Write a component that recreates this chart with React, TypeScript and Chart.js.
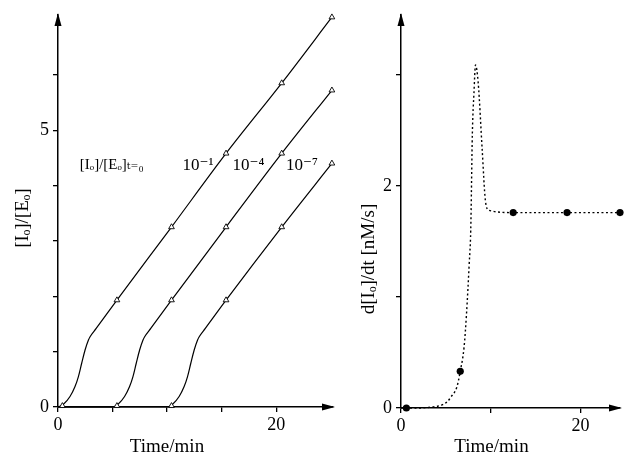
import React, { useEffect, useRef } from "react";
import { Chart, registerables } from "chart.js";

Chart.register(...registerables);

const FONT = "'Liberation Serif', 'DejaVu Serif', serif";

// ---------- Left panel data: [Io]/[Eo] vs time ----------
const T1 = [0, 0.5, 1.1, 1.56, 1.87, 2.17, 2.48, 2.79, 2.94, 3.5, 5.4, 10.4, 15.4, 20.5, 25.1];
const Y1 = [0, 0.05, 0.19, 0.37, 0.55, 0.79, 1.03, 1.21, 1.27, 1.42, 1.93, 3.25, 4.58, 5.85, 7.04];
const T2 = [0, 5.0, 5.5, 6.1, 6.56, 6.87, 7.17, 7.48, 7.79, 7.94, 8.5, 10.4, 15.4, 20.5, 25.1];
const Y2 = [0, 0, 0.05, 0.19, 0.37, 0.55, 0.79, 1.03, 1.21, 1.27, 1.42, 1.93, 3.25, 4.58, 5.72];
const T3 = [0, 10.0, 10.5, 11.1, 11.56, 11.87, 12.17, 12.48, 12.79, 12.94, 13.5, 15.4, 20.5, 25.1];
const Y3 = [0, 0, 0.05, 0.19, 0.37, 0.55, 0.79, 1.03, 1.21, 1.27, 1.42, 1.93, 3.25, 4.4];

const M1_T = [0.4, 5.4, 10.4, 15.4, 20.5, 25.1];
const M1_Y = [0.02, 1.93, 3.25, 4.58, 5.85, 7.04];
const M2_T = [5.4, 10.4, 15.4, 20.5, 25.1];
const M2_Y = [0.02, 1.93, 3.25, 4.58, 5.72];
const M3_T = [10.4, 15.4, 20.5, 25.1];
const M3_Y = [0.02, 1.93, 3.25, 4.4];

const X_TICKS_L = [0, 5, 10, 15, 20];
const X_LABELS_L = [0, 20];
const Y_TICKS_L = [0, 1, 2, 3, 4, 5, 6];
const Y_LABELS_L = [0, 5];

const ANNOT_TEXT = ["[Iₒ]/[Eₒ]ₜ₌₀", "10⁻¹", "10⁻⁴", "10⁻⁷"];
const ANNOT_X = [2.0, 11.4, 16.0, 20.9];
const ANNOT_Y = [4.37, 4.37, 4.37, 4.37];

// ---------- Right panel data: d[Io]/dt vs time ----------
const TR = [0, 0.6, 2, 3, 4, 4.65, 5.2, 5.57, 6.23, 6.6, 7.03, 7.3, 7.6, 7.77, 7.95, 8.13, 8.3, 8.6, 9.05, 9.4, 9.8, 12.5, 18.5, 24.4];
const VR = [0, 0, 0, 0.005, 0.015, 0.03, 0.06, 0.1, 0.19, 0.33, 0.55, 0.85, 1.3, 1.6, 2.47, 2.84, 3.09, 2.93, 2.32, 1.87, 1.78, 1.76, 1.76, 1.76];
const MR_T = [0.6, 6.6, 12.5, 18.5, 24.4];
const MR_V = [0, 0.33, 1.76, 1.76, 1.76];

const X_TICKS_R = [0, 10, 20];
const X_LABELS_R = [0, 20];
const Y_TICKS_R = [0, 1, 2, 3];
const Y_LABELS_R = [0, 2];

const pts = (xs: number[], ys: number[]) => xs.map((x, i) => ({ x, y: ys[i] }));

const arrowPlugin = {
  id: "axisArrows",
  afterDraw(chart: any) {
    const { ctx, chartArea } = chart;
    const { left, top, right, bottom } = chartArea;
    ctx.save();
    ctx.fillStyle = "#000";
    ctx.beginPath();
    ctx.moveTo(left, top - 2);
    ctx.lineTo(left - 3.5, top + 11);
    ctx.lineTo(left + 3.5, top + 11);
    ctx.closePath();
    ctx.fill();
    ctx.beginPath();
    ctx.moveTo(right + 2, bottom);
    ctx.lineTo(right - 11, bottom - 3.5);
    ctx.lineTo(right - 11, bottom + 3.5);
    ctx.closePath();
    ctx.fill();
    ctx.restore();
  },
};

const annotPlugin = {
  id: "annot",
  afterDatasetsDraw(chart: any) {
    const { ctx, scales } = chart;
    ctx.save();
    ctx.fillStyle = "#000";
    ctx.textAlign = "left";
    ctx.textBaseline = "middle";
    ANNOT_TEXT.forEach((t, i) => {
      ctx.font = `${i === 0 ? 15 : 17}px ${FONT}`;
      ctx.fillText(t, scales.x.getPixelForValue(ANNOT_X[i]), scales.y.getPixelForValue(ANNOT_Y[i]));
    });
    ctx.restore();
  },
};

const tickFont = { family: FONT, size: 18 };
const titleFont = { family: FONT, size: 19, lineHeight: 1.2 };

function axisX(max: number, ticks: number[], labels: number[], title: string, h: number) {
  return {
    type: "linear" as const,
    min: 0,
    max,
    afterBuildTicks: (s: any) => {
      s.ticks = ticks.map((v) => ({ value: v }));
    },
    afterFit: (s: any) => {
      s.height = h;
    },
    ticks: {
      autoSkip: false,
      maxRotation: 0,
      color: "#000",
      font: tickFont,
      padding: 2,
      callback: (v: any) => (labels.includes(Number(v)) ? String(v) : ""),
    },
    grid: { drawOnChartArea: false, drawTicks: true, tickLength: 5, color: "#000", lineWidth: 1.3 },
    border: { display: true, color: "#000", width: 1.5 },
    title: {
      display: true,
      text: title,
      color: "#000",
      font: { family: FONT, size: 19, lineHeight: 1 },
      padding: { top: 0, bottom: 0 },
    },
  };
}

function axisY(max: number, ticks: number[], labels: number[], title: string, w: number, tpad: number) {
  return {
    type: "linear" as const,
    min: 0,
    max,
    afterBuildTicks: (s: any) => {
      s.ticks = ticks.map((v) => ({ value: v }));
    },
    afterFit: (s: any) => {
      s.width = w;
    },
    ticks: {
      autoSkip: false,
      color: "#000",
      font: tickFont,
      padding: 4,
      callback: (v: any) => (labels.includes(Number(v)) ? String(v) : ""),
    },
    grid: { drawOnChartArea: false, drawTicks: true, tickLength: 5, color: "#000", lineWidth: 1.3 },
    border: { display: true, color: "#000", width: 1.5 },
    title: {
      display: true,
      text: title,
      color: "#000",
      font: titleFont,
      padding: { top: tpad, bottom: 0 },
    },
  };
}

const lineDs = (data: any[], dash: number[] = []) => ({
  data,
  borderColor: "#000",
  borderWidth: dash.length ? 1.4 : 1.2,
  borderDash: dash,
  pointRadius: 0,
  cubicInterpolationMode: "monotone" as const,
  fill: false,
  order: 2,
  clip: false as any,
});

const triDs = (data: any[]) => ({
  data,
  showLine: false,
  pointStyle: "triangle",
  pointRadius: 3.3,
  pointBackgroundColor: "#fff",
  pointBorderColor: "#000",
  pointBorderWidth: 0.9,
  order: 1,
  clip: false as any,
});

const dotDs = (data: any[]) => ({
  data,
  showLine: false,
  pointStyle: "circle",
  pointRadius: 3.6,
  pointBackgroundColor: "#000",
  pointBorderColor: "#000",
  pointBorderWidth: 0,
  order: 1,
  clip: false as any,
});

export default function App() {
  const leftRef = useRef<HTMLCanvasElement>(null);
  const rightRef = useRef<HTMLCanvasElement>(null);

  useEffect(() => {
    const common = {
      animation: false as const,
      responsive: false,
      plugins: { legend: { display: false }, tooltip: { enabled: false } },
      events: [] as any[],
    };
    const left = new Chart(leftRef.current!, {
      type: "line",
      data: {
        datasets: [
          lineDs(pts(T1, Y1)),
          lineDs(pts(T2, Y2)),
          lineDs(pts(T3, Y3)),
          triDs(pts(M1_T, M1_Y)),
          triDs(pts(M2_T, M2_Y)),
          triDs(pts(M3_T, M3_Y)),
        ] as any,
      },
      options: {
        ...common,
        layout: { padding: { top: 15, right: 12, left: 0, bottom: 0 } },
        scales: {
          x: axisX(25.2, X_TICKS_L, X_LABELS_L, "Time/min" + " ".repeat(12), 50),
          y: axisY(7.08, Y_TICKS_L, Y_LABELS_L, "[Iₒ]/[Eₒ]" + " ".repeat(3), 58, 12),
        } as any,
      },
      plugins: [arrowPlugin, annotPlugin],
    });
    const right = new Chart(rightRef.current!, {
      type: "line",
      data: {
        datasets: [lineDs(pts(TR, VR), [2, 2.5]), dotDs(pts(MR_T, MR_V))] as any,
      },
      options: {
        ...common,
        layout: { padding: { top: 15, right: 2, left: 0, bottom: 0 } },
        scales: {
          x: axisX(24.4, X_TICKS_R, X_LABELS_R, "Time/min" + " ".repeat(8), 49),
          y: axisY(3.54, Y_TICKS_R, Y_LABELS_R, "d[Iₒ]/dt [nM/s]" + " ".repeat(20), 61, 17.6),
        } as any,
      },
      plugins: [arrowPlugin],
    });
    return () => {
      left.destroy();
      right.destroy();
    };
  }, []);

  return (
    <div style={{ position: "fixed", left: 0, top: 0, width: 624, height: 457, background: "#fff" }}>
      <canvas ref={leftRef} width={345} height={457} style={{ position: "absolute", left: 0, top: 0 }} />
      <canvas ref={rightRef} width={284} height={457} style={{ position: "absolute", left: 340, top: 0 }} />
    </div>
  );
}
